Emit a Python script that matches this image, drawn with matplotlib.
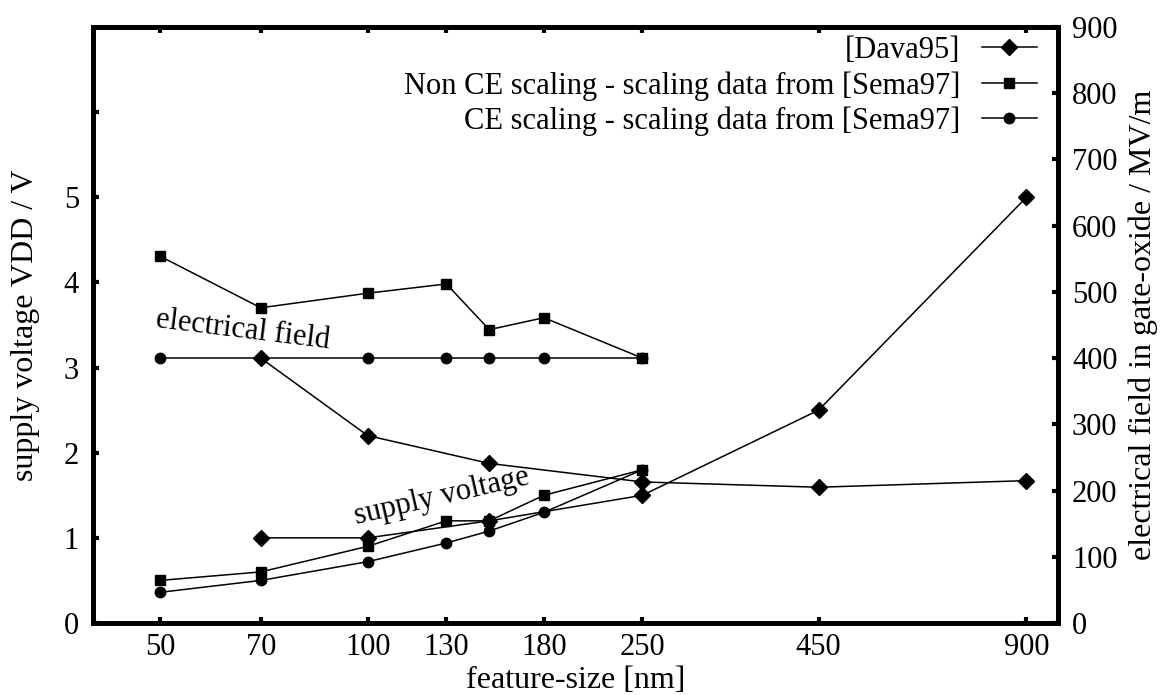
import matplotlib
matplotlib.use("Agg")
import matplotlib.pyplot as plt
from matplotlib.ticker import NullLocator

# feature sizes in nm
tick_sizes = [50, 70, 100, 130, 180, 250, 450, 900]

# [Dava95]
dava_sizes = [70, 100, 150, 250, 450, 900]
dava_vdd = [1.0, 1.0, 1.2, 1.5, 2.5, 5.0]
dava_field = [400, 283, 241, 213, 205, 215]

# scaling data from [Sema97]
sema_sizes = [50, 70, 100, 130, 150, 180, 250]
nonce_vdd = [0.5, 0.6, 0.9, 1.2, 1.2, 1.5, 1.8]
nonce_field = [554, 476, 498, 512, 443, 461, 400]
ce_vdd = [0.36, 0.5, 0.72, 0.94, 1.08, 1.3, 1.8]
ce_field = [400, 400, 400, 400, 400, 400, 400]

vdd_ticks = [0, 1, 2, 3, 4, 5, 6]
vdd_ticklabels = ["0", "1", "2", "3", "4", "5", ""]
field_ticks = [0, 100, 200, 300, 400, 500, 600, 700, 800, 900]

plt.rcParams["font.family"] = ["Liberation Serif", "DejaVu Serif"]
plt.rcParams["font.size"] = 22

W, H = 1171, 695
fig = plt.figure(figsize=(W / 100, H / 100), dpi=100)
ax = fig.add_axes([93 / W, 72 / H, 965 / W, 596 / H])
ax2 = ax.twinx()

line_kw = dict(color="black", linewidth=1.1)
series = [
    ("[Dava95]", "D", 8.5, dava_sizes, dava_vdd, dava_field),
    ("Non CE scaling - scaling data from [Sema97]", "s", 7, sema_sizes, nonce_vdd, nonce_field),
    ("CE scaling - scaling data from [Sema97]", "o", 7.5, sema_sizes, ce_vdd, ce_field),
]
handles = []
for label, marker, ms, xs, vdd, field in series:
    ax.plot(xs, vdd, marker=marker, markersize=ms, **line_kw)
    h, = ax2.plot(xs, field, marker=marker, markersize=ms, label=label, **line_kw)
    handles.append(h)

ax.set_xscale("log")
ax.set_xlim(40, 1000)
ax.xaxis.set_minor_locator(NullLocator())
ax.set_xticks(tick_sizes)
ax.set_xticklabels([str(t) for t in tick_sizes])
ax.set_ylim(0, 7)
ax.set_yticks(vdd_ticks)
ax.set_yticklabels(vdd_ticklabels)
ax2.set_ylim(0, 900)
ax2.set_yticks(field_ticks)

for a in (ax, ax2):
    for s in a.spines.values():
        s.set_linewidth(3.5)
ax.tick_params(axis="x", which="both", direction="in", top=True, length=4.5, width=3, pad=7)
ax.tick_params(axis="y", direction="in", length=4.5, width=3, pad=10)
ax2.tick_params(axis="y", direction="in", length=4.5, width=3, pad=10)

ax.set_xlabel("feature-size [nm]", fontsize=23, labelpad=3)
ax.set_ylabel("supply voltage VDD / V", fontsize=23, labelpad=17)
ax2.set_ylabel("electrical field in gate-oxide / MV/m", fontsize=23, labelpad=8)

ax.text(66, 3.44, "electrical field", rotation=-7, ha="center", va="center",
        rotation_mode="anchor")
ax.text(128, 1.48, "supply voltage", rotation=13, ha="center", va="center",
        rotation_mode="anchor")

ax2.legend(handles=handles, loc="upper right", bbox_to_anchor=(0.978, 0.985),
           frameon=False, markerfirst=False, numpoints=1, handlelength=1.8,
           handletextpad=0.7, labelspacing=0.2, borderpad=0, borderaxespad=0)

fig.savefig("out.png", dpi=100)
